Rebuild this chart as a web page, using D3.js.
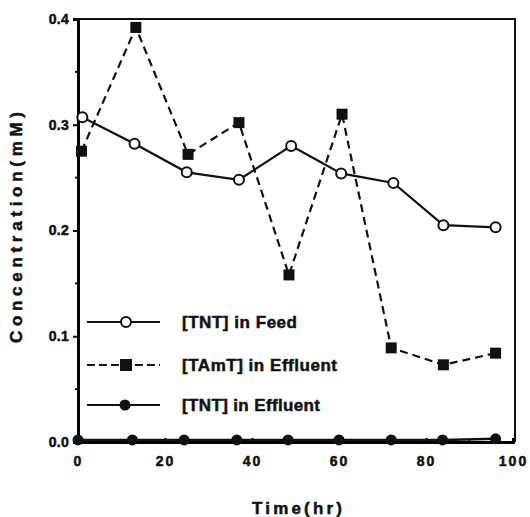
<!DOCTYPE html>
<html lang="en">
<head>
<meta charset="utf-8">
<title>Concentration vs Time</title>
<script src="https://cdn.jsdelivr.net/npm/d3@7"></script>
<style>
  body { margin: 0; background: #fff; }
  svg text { font-family: "Liberation Sans", Arial, sans-serif; font-weight: bold; fill: #111;
             stroke: #111; stroke-width: 0.5px; }
</style>
</head>
<body>
<svg width="530" height="517"></svg>
<script>
// data
var feedTime = [1, 13, 25, 37, 49, 60.5, 72.5, 84, 96],
    feedConc = [0.307, 0.282, 0.255, 0.248, 0.280, 0.254, 0.245, 0.205, 0.203];
var tamtTime = [0.8, 13.3, 25.3, 37, 48.5, 60.7, 72, 84, 96],
    tamtConc = [0.275, 0.392, 0.272, 0.302, 0.158, 0.310, 0.089, 0.073, 0.084];
var effTime = [0, 12.5, 24.4, 36.5, 48.3, 60, 72, 83.8, 96],
    effConc = [0.002, 0.002, 0.002, 0.002, 0.002, 0.002, 0.002, 0.002, 0.003];
var xTicks = [0, 20, 40, 60, 80, 100],
    yTicks = [0.0, 0.1, 0.2, 0.3, 0.4];
var legendLabels = ["[TNT] in Feed", "[TAmT] in Effluent", "[TNT] in Effluent"];

var svg = d3.select("svg");
var x = d3.scaleLinear().domain([0, 100]).range([78, 513]),
    y = d3.scaleLinear().domain([0, 0.4]).range([442, 19]);

/**frame: top and right thin, left and bottom thick*/
svg.append("path")
   .attr("d", "M" + x(0) + "," + y(0.4) + "H515V" + y(0))
   .attr("fill", "none").attr("stroke", "#111").attr("stroke-width", 2);

var yAxis = svg.append("g")
   .attr("transform", "translate(" + x(0) + ",0)")
   .call(d3.axisLeft(y).tickValues(yTicks).tickSize(5).tickPadding(4)
         .tickFormat(d3.format(".1f")));
yAxis.select(".domain").attr("stroke-width", 3);
yAxis.selectAll(".tick line").attr("stroke-width", 2);
yAxis.selectAll("text").style("font-size", "14px").style("letter-spacing", "0.3px");
// minor ticks
yAxis.selectAll(".minor").data([0.05, 0.15, 0.25, 0.35]).enter().append("line")
   .attr("x1", -3).attr("x2", 0)
   .attr("y1", function(d) { return y(d); }).attr("y2", function(d) { return y(d); })
   .attr("stroke", "#111").attr("stroke-width", 2);

var xAxis = svg.append("g")
   .attr("transform", "translate(0," + y(0) + ")")
   .call(d3.axisBottom(x).tickValues(xTicks).tickSize(-4).tickPadding(14));
xAxis.select(".domain").attr("stroke-width", 3);
xAxis.selectAll(".tick line").attr("stroke-width", 2);
xAxis.selectAll("text").style("font-size", "14px").style("letter-spacing", "2px");
xAxis.selectAll(".minor").data([10, 30, 50, 70, 90]).enter().append("line")
   .attr("y1", -3).attr("y2", 0)
   .attr("x1", function(d) { return x(d); }).attr("x2", function(d) { return x(d); })
   .attr("stroke", "#111").attr("stroke-width", 2);

/**axis titles*/
svg.append("text")
   .attr("transform", "translate(22,343) rotate(-90)")
   .attr("textLength", 231).attr("lengthAdjust", "spacing")
   .style("font-size", "17px")
   .text("Concentration(mM)");
svg.append("text")
   .attr("x", 252).attr("y", 514)
   .attr("textLength", 90).attr("lengthAdjust", "spacing")
   .style("font-size", "17px")
   .text("Time(hr)");

/**series*/
function pts(t, c) { return t.map(function(d, i) { return [d, c[i]]; }); }
var line = d3.line().x(function(d) { return x(d[0]); }).y(function(d) { return y(d[1]); });

var feed = pts(feedTime, feedConc),
    tamt = pts(tamtTime, tamtConc),
    eff = pts(effTime, effConc);

svg.append("path").datum(eff).attr("d", line)
   .attr("fill", "none").attr("stroke", "#111").attr("stroke-width", 2.5);
svg.append("path").datum(feed).attr("d", line)
   .attr("fill", "none").attr("stroke", "#111").attr("stroke-width", 2.2);
svg.append("path").datum(tamt).attr("d", line)
   .attr("fill", "none").attr("stroke", "#111").attr("stroke-width", 2.2)
   .attr("stroke-dasharray", "8,5");

svg.selectAll(".feed").data(feed).enter().append("circle")
   .attr("cx", function(d) { return x(d[0]); }).attr("cy", function(d) { return y(d[1]); })
   .attr("r", 5).attr("fill", "#fff").attr("stroke", "#111").attr("stroke-width", 2);
svg.selectAll(".tamt").data(tamt).enter().append("rect")
   .attr("x", function(d) { return x(d[0]) - 5.5; }).attr("y", function(d) { return y(d[1]) - 5.5; })
   .attr("width", 11).attr("height", 11).attr("fill", "#111");
svg.selectAll(".eff").data(eff).enter().append("circle")
   .attr("cx", function(d) { return x(d[0]); }).attr("cy", function(d) { return y(d[1]); })
   .attr("r", 5.5).attr("fill", "#111");

/**legend*/
var leg = svg.append("g");
var legY = [322, 365, 405],
    legLen = [115, 155, 138];
legendLabels.forEach(function(label, i) {
    var g = leg.append("g").attr("transform", "translate(0," + legY[i] + ")");
    g.append("line").attr("x1", 87).attr("x2", 160).attr("y1", 0).attr("y2", 0)
     .attr("stroke", "#111").attr("stroke-width", 2.2)
     .attr("stroke-dasharray", i == 1 ? "8,4" : null);
    if (i == 0) {
        g.append("circle").attr("cx", 126).attr("cy", 0).attr("r", 5)
         .attr("fill", "#fff").attr("stroke", "#111").attr("stroke-width", 2);
    } else if (i == 1) {
        g.append("rect").attr("x", 120).attr("y", -6).attr("width", 12).attr("height", 12).attr("fill", "#111");
    } else {
        g.append("circle").attr("cx", 125).attr("cy", 0).attr("r", 5.5).attr("fill", "#111");
    }
    g.append("text").attr("x", 182).attr("y", 0).attr("dy", "0.36em")
     .attr("textLength", legLen[i]).attr("lengthAdjust", "spacing")
     .style("font-size", "17px")
     .text(label);
});
</script>
</body>
</html>
